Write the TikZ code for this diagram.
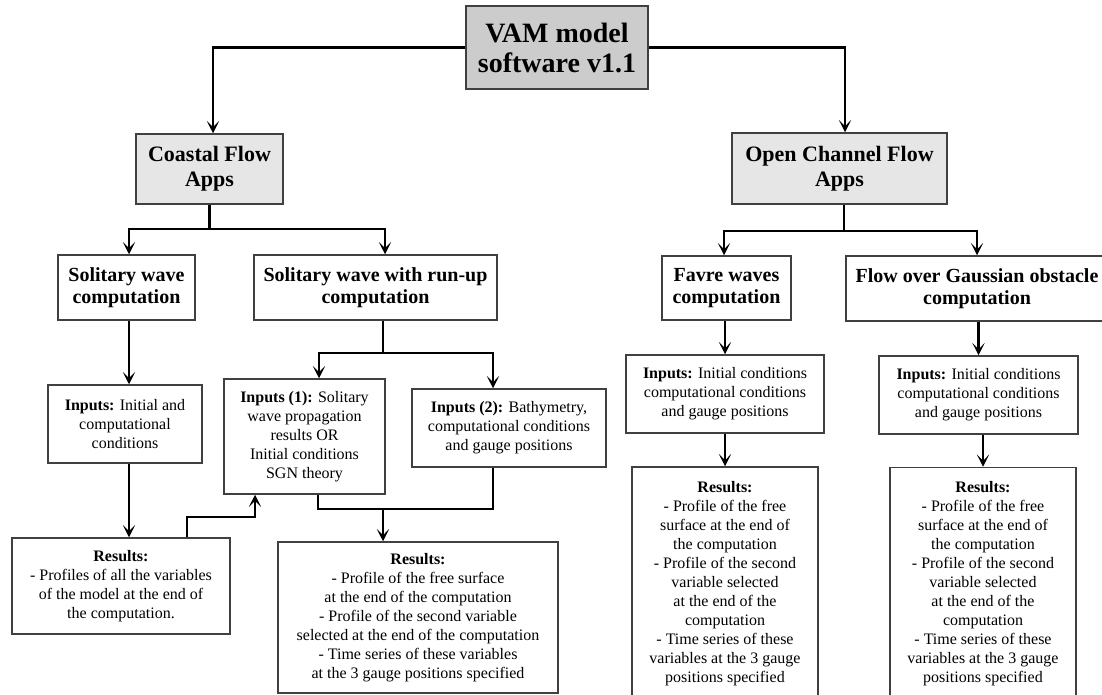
\documentclass[tikz,border=0pt]{standalone}
\usepackage{fontspec}
\setmainfont{Liberation Serif}
\usetikzlibrary{arrows.meta,calc}
\definecolor{topgray}{HTML}{CCCCCC}
\definecolor{lightgray2}{HTML}{E6E6E6}
\definecolor{bordergray}{HTML}{404040}
\tikzset{
  box/.style={draw=bordergray, line width=1.5pt, fill=white, inner sep=0pt, align=center,
    font=\fontsize{16}{19}\selectfont},
  titlebox/.style={box, font=\bfseries\fontsize{20}{22}\selectfont},
  appbox/.style={box, fill=lightgray2, font=\bfseries\fontsize{22}{25}\selectfont},
  rootbox/.style={box, fill=topgray, font=\bfseries\fontsize{28}{30}\selectfont},
  conn/.style={line width=2.3pt, black},
  arr/.style={conn, -{Stealth[length=12pt,width=12pt,inset=6pt]}},
}
\begin{document}
\begin{tikzpicture}[x=1pt,y=-1pt]
\useasboundingbox (0,0) rectangle (1102,695);
\clip (0,0) rectangle (1102,695);
\fill[white] (0,0) rectangle (1102,695);
% nodes
\node[rootbox, minimum width=182pt, minimum height=83pt] (vam) at (557,47.5) {VAM model\\software v1.1};
\node[appbox, minimum width=147pt, minimum height=70pt] (coastal) at (209.5,169) {Coastal Flow\\Apps};
\node[appbox, minimum width=215pt, minimum height=71pt] (open) at (839.5,168.5) {Open Channel Flow\\Apps};
\node[titlebox, minimum width=137pt, minimum height=65pt] (solw) at (126.5,287.5) {Solitary wave\\computation};
\node[titlebox, minimum width=243pt, minimum height=65pt] (runup) at (375.5,287.5) {Solitary wave with run-up\\computation};
\node[titlebox, minimum width=129pt, minimum height=64pt] (favre) at (726.5,288) {Favre waves\\computation};
\node[titlebox, minimum width=262pt, minimum height=65pt] (flow) at (977,288.5) {Flow over Gaussian obstacle\\computation};
\node[box, minimum width=154pt, minimum height=78pt] (in0) at (125,424) {\textbf{Inputs:} Initial and\\computational\\conditions};
\node[box, minimum width=161pt, minimum height=115pt] (in1) at (304.5,436.5) {\textbf{Inputs (1):} Solitary\\wave propagation\\results OR\\Initial conditions\\SGN theory};
\node[box, minimum width=194pt, minimum height=78pt] (in2) at (509,428) {\textbf{Inputs (2):} Bathymetry,\\computational conditions\\and gauge positions};
\node[box, minimum width=218pt, minimum height=96pt] (res0) at (121,586) {\textbf{Results:}\\- Profiles of all the variables\\of the model at the end of\\the computation.};
\node[box, minimum width=280pt, minimum height=151pt] (res1) at (418,617.5) {\textbf{Results:}\\- Profile of the free surface\\at the end of the computation\\- Profile of the second variable\\selected at the end of the computation\\- Time series of these variables\\at the 3 gauge positions specified};
\node[box, minimum width=198pt, minimum height=78pt] (inF) at (725,394) {\textbf{Inputs:} Initial conditions\\computational conditions\\and gauge positions};
\node[box, minimum width=199pt, minimum height=78pt] (inG) at (978.5,395) {\textbf{Inputs:} Initial conditions\\computational conditions\\and gauge positions};
\node[box, minimum width=186pt, minimum height=233pt] (resF) at (725,583.5) {\textbf{Results:}\\- Profile of the free\\surface at the end of\\the computation\\- Profile of the second\\variable selected\\at the end of the\\computation\\- Time series of these\\variables at the 3 gauge\\positions specified};
\node[box, minimum width=186pt, minimum height=233pt] (resG) at (983,584) {\textbf{Results:}\\- Profile of the free\\surface at the end of\\the computation\\- Profile of the second\\variable selected\\at the end of the\\computation\\- Time series of these\\variables at the 3 gauge\\positions specified};
% junction coordinates
\coordinate (cj) at (209.5,229);
\coordinate (rj) at (383,353);
\coordinate (oj) at (844,231);
\coordinate (j1) at (383,509);
% connectors
\draw[arr] (vam.west) -| ([xshift=3.5pt]coastal.north);
\draw[arr] (vam.east) -| ([xshift=5.5pt]open.north);
\draw[conn] (coastal.south) -- (cj);
\draw[arr] (cj) -| ([xshift=2.5pt]solw.north);
\draw[arr] (cj) -| ([xshift=9.5pt]runup.north);
\draw[arr] ([xshift=2.5pt]solw.south) -- ([xshift=2.5pt]solw.south |- in0.north);
\draw[conn] ([xshift=7.5pt]runup.south) -- (rj);
\draw[arr] (rj) -| ([xshift=14.5pt]in1.north);
\draw[arr] (rj) -| ([xshift=-16pt]in2.north);
\draw[arr] ([xshift=4pt]in0.south) -- ([xshift=4pt]in0.south |- res0.north);
\draw[arr] ([xshift=66pt]res0.north) -- ++(0,-20) -| ([xshift=-49.5pt]in1.south);
\draw[conn] ([xshift=13.5pt]in1.south) |- (j1) -| ([xshift=-16pt]in2.south);
\draw[arr] (j1) -- (j1 |- res1.north);
\draw[conn] ([xshift=4.5pt]open.south) -- (oj);
\draw[arr] (oj) -| ([xshift=-2.5pt]favre.north);
\draw[arr] (oj) -| (flow.north);
\draw[arr] (favre.south -| inF.north) -- (inF.north);
\draw[arr] (flow.south -| inG.north) -- (inG.north);
\draw[arr] (inF.south) -- (resF.north);
\draw[arr] (resG.north |- inG.south) -- (resG.north);
\end{tikzpicture}
\end{document}
